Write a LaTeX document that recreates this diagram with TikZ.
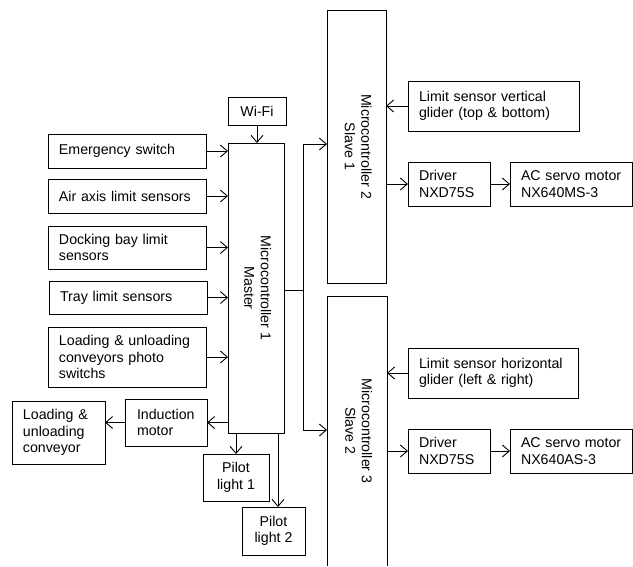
\documentclass[tikz,border=0pt]{standalone}
\usepackage{fontspec}
\setmainfont{Liberation Sans}
\usetikzlibrary{arrows.meta}
\begin{document}
\begin{tikzpicture}[x=1pt,y=-1pt,
  every node/.style={font=\fontsize{14.2}{16.5}\selectfont, line width=0.9pt, inner xsep=0pt, inner ysep=0pt, outer sep=0pt},
  box/.style={draw, rectangle, align=left},
  cbox/.style={draw, rectangle, align=center},
  conn/.style={line width=0.9pt, -{Straight Barb[length=7pt,width=12pt,line width=0.9pt]}},
  wire/.style={line width=0.9pt}]
\useasboundingbox (0,0) rectangle (633,566);
% left inputs
\node[cbox, minimum width=58, minimum height=28] (wifi) at (257,111) {Wi-Fi};
\node[box, minimum width=158, minimum height=34, text width=136] (emerg) at (127,151) {Emergency switch};
\node[box, minimum width=158, minimum height=34, text width=136] (air) at (127,196) {Air axis limit sensors};
\node[box, minimum width=158, minimum height=43, text width=136] (dock) at (127,247.5) {Docking bay limit\\sensors};
\node[box, minimum width=158, minimum height=33, text width=136] (tray) at (128,297.5) {Tray limit sensors};
\node[box, minimum width=158, minimum height=60, text width=136] (load) at (127,357) {Loading \& unloading\\conveyors photo\\switchs};
% master
\node[draw, minimum width=56, minimum height=290] (master) at (256,288)
  {\rotatebox{-90}{\begin{tabular}{@{}c@{}}Microcontroller 1\\Master\end{tabular}}};
% outputs of master
\node[box, minimum width=82, minimum height=47, text width=58] (ind) at (166,422.5) {Induction\\motor};
\node[box, minimum width=93, minimum height=63, text width=71] (conv) at (58.5,432.5) {Loading \&\\unloading\\conveyor};
\node[cbox, minimum width=66, minimum height=47] (pl1) at (236,477.5) {Pilot\\light 1};
\node[cbox, minimum width=63, minimum height=48] (pl2) at (273.5,531) {Pilot\\light 2};
% slaves
\node[draw, minimum width=59, minimum height=273] (slave1) at (356.5,146.5)
  {\rotatebox{-90}{\begin{tabular}{@{}c@{}}Microcontroller 2\\Slave 1\end{tabular}}};
\node[minimum width=60, minimum height=270] (slave2) at (357,431)
  {\rotatebox{-90}{\begin{tabular}{@{}c@{}}Microcontroller 3\\Slave 2\end{tabular}}};
\draw[wire] (slave2.south west) -- (slave2.north west) -- (slave2.north east) -- (slave2.south east);
% slave 1 peripherals
\node[box, minimum width=171, minimum height=50, text width=149] (limv) at (493.5,106) {Limit sensor vertical\\glider (top \& bottom)};
\node[box, minimum width=82, minimum height=44, text width=60] (drv1) at (449,184) {Driver\\NXD75S};
\node[box, minimum width=122, minimum height=44, text width=100] (ac1) at (571,184) {\mbox{AC servo motor}\\NX640MS-3};
% slave 2 peripherals
\node[box, minimum width=170, minimum height=50, text width=148] (limh) at (493,373) {Limit sensor horizontal\\glider (left \& right)};
\node[box, minimum width=82, minimum height=44, text width=60] (drv2) at (449,451) {Driver\\NXD75S};
\node[box, minimum width=122, minimum height=44, text width=100] (ac2) at (571,451) {\mbox{AC servo motor}\\NX640AS-3};
% connectors into master
\draw[conn] (wifi) -- (master.north -| wifi);
\foreach \n in {emerg,air,dock,tray,load}
  \draw[conn] (\n.east) -- (master.west |- \n.east);
% master outputs
\draw[conn] (master.west |- ind.east) -- (ind.east);
\draw[conn] (ind.west) -- (conv.east |- ind.west);
\draw[conn] (master.south -| pl1.north) -- (pl1.north);
\coordinate (pl2top) at ([xshift=4.5pt]pl2.north);
\draw[conn] (master.south -| pl2top) -- (pl2top);
% trunk to slaves
\coordinate (trunk) at (303,290);
\coordinate (t1) at (303,144);
\coordinate (t2) at (303,430);
\draw[wire] (master.east |- trunk) -- (trunk);
\draw[conn] (trunk) -- (t1) -- (slave1.west |- t1);
\draw[conn] (trunk) -- (t2) -- (slave2.west |- t2);
% slave 1 links
\draw[conn] (limv.west) -- (slave1.east |- limv.west);
\draw[conn] (slave1.east |- drv1.west) -- (drv1.west);
\draw[conn] (drv1.east) -- (ac1.west);
% slave 2 links
\draw[conn] (limh.west) -- (slave2.east |- limh.west);
\draw[conn] (slave2.east |- drv2.west) -- (drv2.west);
\draw[conn] (drv2.east) -- (ac2.west);
\end{tikzpicture}
\end{document}
